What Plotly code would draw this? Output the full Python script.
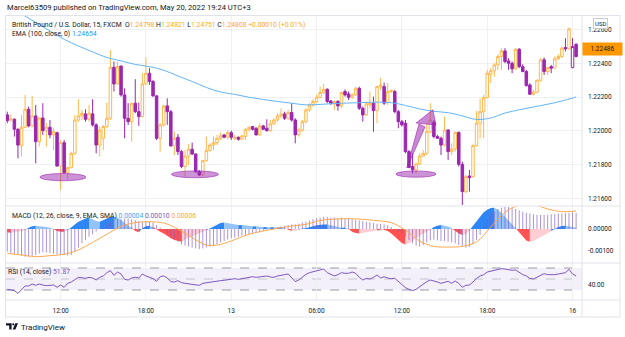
import plotly.graph_objects as go

# ---------------- data ----------------
time_tick_idx = [15, 39, 63, 87, 111, 135, 159]
time_tick_text = ["12:00", "18:00", "13", "06:00", "12:00", "18:00", "16"]

price_ticks = [1.216, 1.218, 1.220, 1.222, 1.224, 1.226]
macd_ticks = [0.0, -0.001]
rsi_ticks = [40]

opens = [1.22095,1.22065,1.22069,1.22010,1.21912,1.22022,1.22128,1.22030,1.22089,1.21937,
         1.22077,1.22002,1.22022,1.21977,1.21990,1.21793,1.21931,1.21754,1.21783,1.21868,
         1.22065,1.22089,1.22101,1.22069,1.22101,1.22036,1.21917,1.21957,1.22026,1.22075,
         1.22376,1.22278,1.22384,1.22213,1.22075,1.22055,1.22164,1.22114,1.22085,1.22278,
         1.22341,1.22292,1.22207,1.21957,1.22036,1.22148,1.22114,1.21912,1.21963,1.21878,
         1.21790,1.21852,1.21892,1.21864,1.21760,1.21740,1.21825,1.21884,1.21917,1.21931,
         1.21957,1.21977,1.21963,1.21990,1.21955,1.21963,1.21951,1.21967,1.22010,1.22026,
         1.22016,1.21977,1.22030,1.22016,1.22002,1.22042,1.22065,1.22089,1.22101,1.22075,
         1.22109,1.22065,1.21977,1.22006,1.22055,1.22124,1.22154,1.22174,1.22199,1.22227,
         1.22246,1.22177,1.22160,1.22174,1.22148,1.22233,1.22219,1.22199,1.22213,1.22252,
         1.22134,1.22095,1.22154,1.22164,1.22120,1.22262,1.22262,1.22168,1.22233,1.22233,
         1.22114,1.22055,1.22046,1.21878,1.21790,1.21770,1.21805,1.21852,1.21868,1.21996,
         1.22051,1.21967,1.21957,1.21917,1.22006,1.21878,1.21894,1.21992,1.21803,1.21642,
         1.21734,1.21730,1.21914,1.22046,1.22114,1.22197,1.22335,1.22355,1.22390,1.22440,
         1.22473,1.22414,1.22400,1.22367,1.22483,1.22380,1.22351,1.22272,1.22217,1.22229,
         1.22300,1.22420,1.22351,1.22380,1.22371,1.22426,1.22440,1.22493,1.22485,1.22374,
         1.22512]
highs = [1.22114,1.22095,1.22075,1.22016,1.22095,1.22213,1.22144,1.22207,1.22154,1.22077,
         1.22164,1.22046,1.22065,1.22016,1.21996,1.21947,1.21947,1.21790,1.21878,1.22095,
         1.22187,1.22124,1.22128,1.22154,1.22187,1.22046,1.22026,1.22036,1.22168,1.22479,
         1.22410,1.22410,1.22384,1.22252,1.22164,1.22168,1.22306,1.22168,1.22341,1.22436,
         1.22371,1.22302,1.22213,1.22046,1.22154,1.22193,1.22124,1.21996,1.21982,1.21888,
         1.21888,1.21923,1.21931,1.21868,1.21770,1.21829,1.21967,1.21927,1.21967,1.21977,
         1.21990,1.21982,1.22002,1.22002,1.21977,1.21967,1.21977,1.22016,1.22026,1.22030,
         1.22022,1.22046,1.22036,1.22069,1.22065,1.22075,1.22105,1.22134,1.22114,1.22124,
         1.22164,1.22075,1.22016,1.22065,1.22134,1.22164,1.22187,1.22213,1.22262,1.22278,
         1.22252,1.22183,1.22180,1.22183,1.22233,1.22246,1.22233,1.22223,1.22262,1.22262,
         1.22144,1.22174,1.22233,1.22203,1.22266,1.22312,1.22286,1.22282,1.22246,1.22243,
         1.22124,1.22065,1.22065,1.21888,1.21868,1.21813,1.21868,1.21888,1.22046,1.22164,
         1.22065,1.21977,1.21967,1.22085,1.22012,1.21927,1.21996,1.21996,1.21819,1.21740,
         1.21770,1.21921,1.22118,1.22193,1.22213,1.22361,1.22371,1.22400,1.22453,1.22489,
         1.22489,1.22430,1.22410,1.22489,1.22489,1.22394,1.22361,1.22282,1.22243,1.22304,
         1.22430,1.22434,1.22380,1.22390,1.22440,1.22453,1.22499,1.22548,1.22611,1.22548,
         1.22518]
lows = [1.22046,1.22055,1.21967,1.21839,1.21849,1.22016,1.22022,1.22022,1.21809,1.21908,
        1.21977,1.21908,1.21957,1.21888,1.21790,1.21652,1.21750,1.21711,1.21780,1.21858,
        1.22055,1.22065,1.22055,1.22055,1.22026,1.21868,1.21849,1.21888,1.22016,1.22065,
        1.22233,1.22272,1.22203,1.21957,1.22036,1.21937,1.22105,1.22030,1.22081,1.22272,
        1.22272,1.22203,1.21947,1.21878,1.22026,1.22036,1.21908,1.21858,1.21858,1.21780,
        1.21730,1.21799,1.21858,1.21754,1.21734,1.21734,1.21819,1.21878,1.21888,1.21917,
        1.21947,1.21957,1.21951,1.21947,1.21947,1.21943,1.21947,1.21947,1.21996,1.22002,
        1.21973,1.21971,1.22006,1.21996,1.21996,1.22036,1.22055,1.22075,1.22065,1.22065,
        1.22055,1.21927,1.21967,1.21996,1.22046,1.22114,1.22144,1.22164,1.22193,1.22219,
        1.22164,1.22154,1.22124,1.22120,1.22134,1.22203,1.22183,1.22187,1.22207,1.22124,
        1.22055,1.22089,1.22134,1.21996,1.22046,1.22243,1.22154,1.22154,1.22223,1.22105,
        1.22016,1.22026,1.21868,1.21780,1.21750,1.21750,1.21799,1.21849,1.21858,1.21986,
        1.21957,1.21953,1.21858,1.21908,1.21829,1.21858,1.21878,1.21790,1.21563,1.21632,
        1.21642,1.21724,1.21908,1.21957,1.21957,1.22193,1.22282,1.22321,1.22361,1.22361,
        1.22400,1.22361,1.22341,1.22361,1.22371,1.22347,1.22262,1.22213,1.22209,1.22223,
        1.22292,1.22331,1.22331,1.22341,1.22371,1.22420,1.22430,1.22469,1.22480,1.22371,
        1.22434]
closes = [1.22061,1.22071,1.22010,1.21917,1.22022,1.22128,1.22030,1.22089,1.21937,1.22077,
          1.22002,1.22022,1.21977,1.21996,1.21793,1.21931,1.21754,1.21783,1.21868,1.22065,
          1.22089,1.22105,1.22069,1.22105,1.22036,1.21917,1.22006,1.22026,1.22075,1.22376,
          1.22278,1.22380,1.22213,1.22075,1.22055,1.22164,1.22114,1.22085,1.22278,1.22341,
          1.22292,1.22207,1.21957,1.22036,1.22148,1.22114,1.21912,1.21957,1.21878,1.21790,
          1.21852,1.21892,1.21864,1.21760,1.21740,1.21825,1.21884,1.21917,1.21931,1.21957,
          1.21971,1.21963,1.21990,1.21963,1.21963,1.21951,1.21971,1.22010,1.22022,1.22010,
          1.21977,1.22030,1.22010,1.22002,1.22042,1.22065,1.22089,1.22101,1.22075,1.22109,
          1.22065,1.21977,1.22006,1.22055,1.22124,1.22154,1.22174,1.22199,1.22227,1.22246,
          1.22174,1.22164,1.22174,1.22148,1.22227,1.22213,1.22199,1.22213,1.22252,1.22134,
          1.22095,1.22160,1.22164,1.22120,1.22262,1.22272,1.22164,1.22233,1.22239,1.22114,
          1.22055,1.22036,1.21878,1.21785,1.21770,1.21805,1.21852,1.21868,1.21996,1.22065,
          1.21967,1.21957,1.21917,1.22006,1.21878,1.21894,1.21992,1.21803,1.21642,1.21730,
          1.21724,1.21914,1.22046,1.22114,1.22197,1.22341,1.22355,1.22390,1.22440,1.22473,
          1.22410,1.22400,1.22367,1.22483,1.22380,1.22351,1.22268,1.22217,1.22229,1.22300,
          1.22420,1.22351,1.22374,1.22371,1.22426,1.22440,1.22489,1.22485,1.22603,1.22499,
          1.22440]
last_price = 1.22486

ema_idx = [0,4,8,12,16,20,24,28,32,36,40,44,48,52,56,60,64,68,72,76,80,84,88,92,96,100,
           104,108,112,116,120,124,128,132,136,140,144,148,152,156,160]
ema_val = [1.22739,1.22691,1.22641,1.22591,1.22541,1.22502,1.22467,1.22434,1.22414,1.22393,
           1.22380,1.22359,1.22325,1.22292,1.22257,1.22230,1.22216,1.22199,1.22186,1.22174,
           1.22164,1.22154,1.22157,1.22162,1.22165,1.22168,1.22170,1.22167,1.22151,1.22130,
           1.22116,1.22108,1.22089,1.22068,1.22077,1.22106,1.22125,1.22142,1.22158,1.22177,
           1.22201]

macd = [-0.00103,-0.00111,-0.00115,-0.00118,-0.00121,-0.00126,-0.00126,-0.00123,-0.00118,-0.00111,
        -0.00106,-0.00106,-0.00109,-0.00112,-0.00115,-0.00118,-0.00118,-0.00121,-0.00118,-0.00103,
        -0.00085,-0.00065,-0.00050,-0.00035,-0.00024,-0.00012,0.00003,0.00015,0.00026,0.00033,
        0.00041,0.00045,0.00045,0.00048,0.00048,0.00045,0.00041,0.00036,0.00033,0.00036,
        0.00033,0.00030,0.00018,0.00006,-0.00005,-0.00020,-0.00035,-0.00045,-0.00058,-0.00070,
        -0.00076,-0.00080,-0.00085,-0.00088,-0.00091,-0.00088,-0.00085,-0.00080,-0.00076,-0.00070,
        -0.00061,-0.00055,-0.00048,-0.00042,-0.00039,-0.00035,-0.00030,-0.00027,-0.00024,-0.00021,
        -0.00018,-0.00015,-0.00009,-0.00005,0.00000,0.00003,0.00009,0.00012,0.00015,0.00018,
        0.00021,0.00021,0.00024,0.00030,0.00033,0.00039,0.00045,0.00048,0.00052,0.00055,
        0.00055,0.00052,0.00052,0.00048,0.00052,0.00048,0.00048,0.00045,0.00042,0.00039,
        0.00036,0.00033,0.00030,0.00027,0.00024,0.00024,0.00021,0.00018,0.00009,0.00000,
        -0.00009,-0.00021,-0.00035,-0.00050,-0.00065,-0.00076,-0.00080,-0.00073,-0.00061,-0.00052,
        -0.00048,-0.00052,-0.00055,-0.00055,-0.00058,-0.00061,-0.00065,-0.00073,-0.00080,-0.00085,
        -0.00082,-0.00070,-0.00050,-0.00027,0.00018,0.00045,0.00067,0.00082,0.00091,0.00097,
        0.00100,0.00100,0.00097,0.00091,0.00085,0.00079,0.00073,0.00070,0.00067,0.00064,
        0.00064,0.00064,0.00064,0.00067,0.00067,0.00070,0.00071,0.00073,0.00073,0.00076,
        0.00073]
hist = [-0.00015,-0.00017,-0.00015,-0.00012,-0.00009,-0.00005,0.00006,0.00012,0.00015,0.00014,
        0.00012,0.00009,0.00006,0.00000,-0.00009,-0.00012,-0.00012,-0.00006,0.00009,0.00021,
        0.00033,0.00042,0.00048,0.00052,0.00045,0.00036,0.00033,0.00039,0.00048,0.00055,
        0.00056,0.00052,0.00041,0.00026,0.00015,0.00006,-0.00009,-0.00015,0.00003,0.00012,
        0.00015,0.00009,-0.00003,-0.00012,-0.00021,-0.00033,-0.00042,-0.00050,-0.00055,-0.00058,
        -0.00048,-0.00039,-0.00033,-0.00027,-0.00021,-0.00015,-0.00006,0.00003,0.00012,0.00021,
        0.00027,0.00030,0.00027,0.00024,0.00021,0.00018,0.00018,0.00015,0.00014,0.00012,
        0.00012,0.00011,0.00009,0.00009,0.00008,0.00008,0.00006,0.00006,0.00003,-0.00003,
        -0.00009,-0.00008,-0.00003,0.00002,0.00003,0.00006,0.00012,0.00017,0.00020,0.00021,
        0.00021,0.00018,0.00014,0.00009,0.00006,0.00006,0.00000,-0.00012,-0.00018,-0.00020,
        -0.00018,-0.00015,-0.00012,-0.00009,-0.00006,-0.00006,-0.00005,-0.00009,-0.00021,-0.00036,
        -0.00052,-0.00064,-0.00070,-0.00065,-0.00055,-0.00042,-0.00030,-0.00021,-0.00012,-0.00003,
        0.00009,0.00015,0.00018,0.00015,0.00011,0.00003,-0.00009,-0.00021,-0.00027,-0.00024,
        -0.00006,0.00015,0.00036,0.00058,0.00076,0.00088,0.00095,0.00097,0.00088,0.00073,
        0.00055,0.00036,0.00018,0.00003,-0.00015,-0.00036,-0.00052,-0.00058,-0.00055,-0.00045,
        -0.00036,-0.00027,-0.00018,-0.00009,0.00000,0.00009,0.00014,0.00015,0.00012,0.00008,
        0.00006]
signal_idx = [0,4,8,12,16,20,24,28,32,36,40,44,48,52,56,60,64,68,72,76,80,84,88,92,96,100,
              104,108,112,116,120,124,128,132,136,140,144,148,152,156,160]
signal_val = [-0.00111,-0.00118,-0.00126,-0.00121,-0.00115,-0.00095,-0.00061,-0.00024,0.00011,0.00029,
              0.00033,0.00027,0.00000,-0.00039,-0.00073,-0.00070,-0.00048,-0.00024,-0.00009,0.00003,
              0.00014,0.00021,0.00039,0.00045,0.00047,0.00044,0.00038,0.00029,-0.00005,-0.00055,
              -0.00079,-0.00082,-0.00079,-0.00058,0.00009,0.00076,0.00109,0.00112,0.00091,0.00079,
              0.00082]
rsi = [31.2,30.6,28.8,23.9,31.2,37.3,37.3,40.9,38.5,40.9,39.1,37.9,38.5,39.1,34.9,39.1,34.9,42.1,44.5,49.4,
       53.0,52.4,51.2,53.0,51.8,48.2,53.0,55.5,61.5,65.2,56.7,62.7,59.1,49.4,48.2,51.8,53.0,51.8,59.1,55.5,
       53.0,50.6,45.8,54.2,55.5,51.8,45.2,44.5,47.0,43.3,42.1,40.9,40.9,39.1,38.5,42.1,43.3,44.5,45.2,46.4,
       47.0,47.6,48.2,50.0,50.6,49.4,50.6,53.0,53.0,54.2,53.0,53.6,54.2,55.5,53.6,53.0,55.5,57.3,57.9,59.1,
       53.0,45.2,48.2,53.0,58.5,61.5,63.3,65.2,66.4,68.2,61.5,59.1,55.5,57.9,61.5,60.3,60.3,62.7,60.3,53.0,
       48.2,51.2,50.0,53.0,57.3,51.8,54.2,51.8,50.6,51.2,45.2,39.1,34.2,31.2,28.8,31.2,36.1,40.9,45.2,48.2,
       47.0,44.5,42.1,44.5,45.8,42.1,46.4,42.1,34.9,38.5,39.1,44.5,51.2,55.5,57.9,62.7,63.9,66.4,67.6,68.8,
       68.2,66.4,65.8,66.4,61.5,57.9,55.5,51.2,50.0,53.0,55.5,59.7,57.9,57.3,57.9,59.1,60.3,61.5,67.6,59.1,
       55.5]

# drawings on the chart (bar index, price)
ellipses = [(9.2, 22.1, 1.21706, 1.21749), (46.2, 59.4, 1.21724, 1.21764), (109.3, 120.6, 1.21727, 1.21764)]
arrow_shaft = [(112.4, 1.21781), (115.8, 1.22041), (117.5, 1.22024)]
arrow_head = [(115.0, 1.22047), (120.6, 1.22035), (119.7, 1.22125)]

# ---------------- styling ----------------
ORANGE = "#FFB74D"
PURPLE = "#9C27B0"
TEXT = "#131722"
GRID = "#eef0f4"
BORDER = "#e0e3eb"
FONT = "Roboto"

L, R, T, B = 6, 582, 16, 300
W, PH = R - L, B - T
def px(x):
    return (x - L) / W
def py(y):
    return (B - y) / PH

n = len(closes)
xs = list(range(n))
orange_mask = [closes[i] >= (closes[i - 1] if i > 0 else opens[i]) for i in range(n)]

def pick(arr, keep):
    return [v if k else None for v, k in zip(arr, keep)]

fig = go.Figure()
purple_mask = [not m for m in orange_mask]
for mask, col in [(orange_mask, ORANGE), (purple_mask, PURPLE)]:
    fig.add_trace(go.Candlestick(
        x=xs, open=pick(opens, mask), high=pick(highs, mask), low=pick(lows, mask),
        close=pick(closes, mask), xaxis="x", yaxis="y",
        increasing=dict(line=dict(color=col, width=1), fillcolor="white"),
        decreasing=dict(line=dict(color=col, width=1), fillcolor=col),
        whiskerwidth=0, showlegend=False, hoverinfo="skip"))

fig.add_trace(go.Scatter(x=ema_idx, y=ema_val, mode="lines", line=dict(color="#64B5F6", width=1, shape="spline"),
                         xaxis="x", yaxis="y", showlegend=False, hoverinfo="skip"))

# MACD histogram as coloured area segments
hcols = []
for i, h in enumerate(hist):
    prev = hist[i - 1] if i > 0 else h
    if h >= 0:
        hcols.append("#2E86F5" if h >= prev else "#93C3F8")
    else:
        hcols.append("#FFCDD2" if h > prev else "#FF5252")
runs = []
s = 0
for i in range(1, n + 1):
    if i == n or hcols[i] != hcols[s]:
        runs.append((s, i - 1))
        s = i
for a, b in runs:
    a0 = max(a - 1, 0)
    fig.add_trace(go.Scatter(x=xs[a0:b + 1], y=hist[a0:b + 1], mode="lines", fill="tozeroy",
                             fillcolor=hcols[a], line=dict(width=0, color=hcols[a]),
                             xaxis="x2", yaxis="y2", showlegend=False, hoverinfo="skip"))
mx, my = [], []
for i, v in enumerate(macd):
    mx += [i, i, None]
    my += [0, v, None]
fig.add_trace(go.Scatter(x=mx, y=my, mode="lines", line=dict(color="rgba(126,87,194,0.65)", width=1),
                         xaxis="x2", yaxis="y2", showlegend=False, hoverinfo="skip"))
fig.add_trace(go.Scatter(x=signal_idx, y=signal_val, mode="lines", line=dict(color="#FFA94D", width=1, shape="spline"),
                         xaxis="x2", yaxis="y2", showlegend=False, hoverinfo="skip"))

fig.add_trace(go.Scatter(x=xs, y=rsi, mode="lines", line=dict(color="#7E57C2", width=1),
                         xaxis="x3", yaxis="y3", showlegend=False, hoverinfo="skip"))

xr = [-0.36, 161.66]
d_main = [py(206), 1]
d_macd = [py(263), py(206)]
d_rsi = [0, py(263)]
xcommon = dict(range=xr, showgrid=True, gridcolor=GRID, gridwidth=1, tickmode="array",
               tickvals=time_tick_idx, ticktext=time_tick_text, zeroline=False, showline=False,
               ticks="", fixedrange=True)
ycommon = dict(side="right", zeroline=False, showline=False, ticks="",
               tickfont=dict(size=6.5, color=TEXT, family=FONT), ticklabelstandoff=5)

fig.update_layout(
    width=625, height=337, margin=dict(l=L, r=625 - R, t=T, b=337 - B),
    paper_bgcolor="white", plot_bgcolor="white", showlegend=False,
    boxgap=0.22, boxgroupgap=0.1,
    font=dict(family=FONT, color=TEXT),
    xaxis=dict(**xcommon, anchor="y", domain=[0, 1], showticklabels=False, rangeslider=dict(visible=False)),
    xaxis2=dict(**xcommon, anchor="y2", domain=[0, 1], matches="x", showticklabels=False),
    xaxis3=dict(**xcommon, anchor="y3", domain=[0, 1], matches="x", showticklabels=True,
                tickfont=dict(size=6.5, color=TEXT, family=FONT), ticklabelstandoff=5),
    yaxis=dict(**ycommon, showgrid=True, gridcolor=GRID, domain=d_main, range=[1.21557, 1.22679],
               tickvals=price_ticks, ticktext=[f"{v:.5f}" for v in price_ticks]),
    yaxis2=dict(**ycommon, showgrid=False, domain=d_macd, range=[-0.001545, 0.001045], tickvals=macd_ticks,
                ticktext=[f"{v:.5f}" for v in macd_ticks]),
    yaxis3=dict(**ycommon, showgrid=False, domain=d_rsi, range=[11.8, 79.1], tickvals=rsi_ticks,
                ticktext=[f"{v:.2f}" for v in rsi_ticks]),
)

shapes = []
shapes.append(dict(type="rect", xref="paper", yref="y3", x0=0, x1=1, y0=30, y1=70,
                   fillcolor="rgba(126,87,194,0.09)", line=dict(width=0), layer="below"))
for lv, colr in [(70, "#9a9aa8"), (50, "#c4c4cc"), (30, "#9a9aa8")]:
    shapes.append(dict(type="line", xref="paper", yref="y3", x0=0, x1=1, y0=lv, y1=lv,
                       line=dict(color=colr, width=1, dash="dash"), layer="below"))
for x0, x1, y0, y1 in ellipses:
    shapes.append(dict(type="circle", xref="x", yref="y", x0=x0, x1=x1, y0=y0, y1=y1,
                       fillcolor="rgba(156,39,176,0.5)", line=dict(color="rgba(156,39,176,0.6)", width=1),
                       layer="above"))
for poly in (arrow_shaft, arrow_head):
    path = "M " + " L ".join(f"{a},{b}" for a, b in poly) + " Z"
    shapes.append(dict(type="path", xref="x", yref="y", path=path,
                       fillcolor="rgba(156,39,176,0.55)", line=dict(color="rgba(156,39,176,0.6)", width=1),
                       layer="above"))
def hline(y, x0=5, x1=620, color=BORDER):
    shapes.append(dict(type="line", xref="paper", yref="paper", x0=px(x0), x1=px(x1), y0=py(y), y1=py(y),
                       line=dict(color=color, width=1)))
def vline(x, y0=15, y1=317, color=BORDER):
    shapes.append(dict(type="line", xref="paper", yref="paper", x0=px(x), x1=px(x), y0=py(y0), y1=py(y1),
                       line=dict(color=color, width=1)))
hline(15.5); hline(206); hline(263); hline(300); hline(317)
vline(5.5); vline(582); vline(620)
def P(x, y):
    return f"{px(x)},{py(y)}"
shapes.append(dict(type="path", xref="paper", yref="paper",
                   path=f"M {P(6,323.3)} L {P(11.6,323.3)} L {P(11.6,329.5)} L {P(9.2,329.5)} L {P(9.2,325.4)} L {P(6,325.4)} Z",
                   fillcolor=TEXT, line=dict(width=0)))
shapes.append(dict(type="circle", xref="paper", yref="paper", x0=px(12.2), x1=px(14.3), y0=py(323.3), y1=py(325.4),
                   fillcolor=TEXT, line=dict(width=0)))
shapes.append(dict(type="path", xref="paper", yref="paper",
                   path=f"M {P(15.3,323.3)} L {P(18.0,323.3)} L {P(15.4,329.5)} L {P(12.7,329.5)} Z",
                   fillcolor=TEXT, line=dict(width=0)))
fig.update_layout(shapes=shapes)

def span(t, c):
    return f"<span style='color:{c}'>{t}</span>"
OC = "#FFA726"
ann = []
def text(x, y, t, size=6.8, **kw):
    ann.append(dict(xref="paper", yref="paper", x=px(x), y=py(y), text=t, showarrow=False,
                    xanchor="left", yanchor="middle", font=dict(size=size, color=TEXT, family=FONT), **kw))
text(5, 7.5, "Marcel63509 published on TradingView.com, May 20, 2022 19:24 UTC+3", size=7.6)
text(10, 24.5, "British Pound / U.S. Dollar, 15, FXCM&nbsp;&nbsp;O" + span("1.24798", OC) + " H" + span("1.24821", OC)
     + " L" + span("1.24751", OC) + " C" + span("1.24808", OC) + " " + span("+0.00010 (+0.01%)", OC))
text(10, 34, "EMA (100, close, 0) " + span("1.24654", "#2196F3"))
text(10, 216, "MACD (12, 26, close, 9, EMA, SMA) " + span("0.00004", "#42A5F5") + " "
     + span("0.00010", "#7E57C2") + " " + span("0.00006", OC))
text(6, 272, "RSI (14, close) " + span("51.87", "#7E57C2"))
text(18.5, 327, "TradingView", size=8)
ann.append(dict(xref="paper", yref="y", x=px(582), y=last_price, text="1.22486", showarrow=False,
                xanchor="left", yanchor="middle", bgcolor="#FF9800", width=37, height=10,
                font=dict(size=6.5, color=TEXT, family=FONT)))
ann.append(dict(xref="paper", yref="paper", x=px(600), y=py(23.5), text="USD", showarrow=False,
                xanchor="center", yanchor="middle", bgcolor="white", bordercolor="#c9ccd6", borderwidth=1,
                borderpad=1, font=dict(size=6, color=TEXT, family=FONT)))
fig.update_layout(annotations=ann)

fig.write_html("out.html")
